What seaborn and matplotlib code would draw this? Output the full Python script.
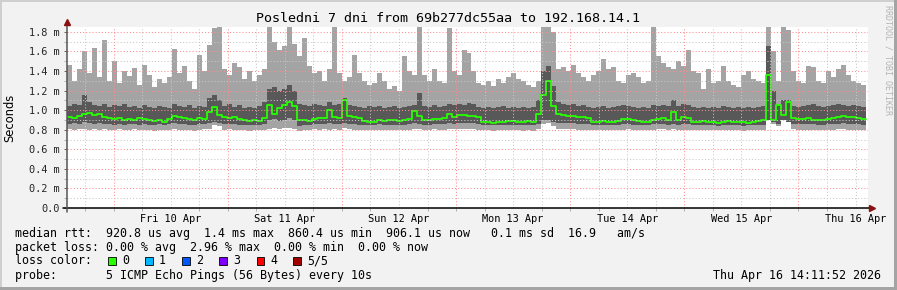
import numpy as np
import pandas as pd
import matplotlib
matplotlib.use("Agg")
import matplotlib.pyplot as plt
import seaborn as sns
from matplotlib.patches import Rectangle
from matplotlib.lines import Line2D

# ---------------- data (ms), 160 bins over 7 days ----------------
top = [
    1.46, 1.30, 1.42, 1.60, 1.38, 1.64, 1.34, 1.72, 1.30, 1.50, 1.28, 1.40, 1.35, 1.43, 1.26, 1.46, 1.36, 1.24, 1.32, 1.28,
    1.34, 1.63, 1.38, 1.45, 1.30, 1.22, 1.56, 1.40, 1.67, 1.84, 1.85, 1.42, 1.36, 1.48, 1.44, 1.32, 1.40, 1.30, 1.36, 1.42,
    1.86, 1.70, 1.62, 1.66, 1.86, 1.68, 1.55, 1.74, 1.45, 1.38, 1.40, 1.30, 1.42, 1.86, 1.38, 1.30, 1.34, 1.56, 1.38, 1.30,
    1.26, 1.28, 1.38, 1.30, 1.22, 1.25, 1.20, 1.55, 1.40, 1.36, 1.86, 1.36, 1.30, 1.42, 1.30, 1.28, 1.84, 1.40, 1.36, 1.62,
    1.58, 1.40, 1.28, 1.26, 1.30, 1.25, 1.32, 1.28, 1.34, 1.38, 1.32, 1.30, 1.26, 1.24, 1.30, 1.87, 1.86, 1.80, 1.42, 1.44,
    1.40, 1.46, 1.38, 1.34, 1.30, 1.36, 1.40, 1.52, 1.42, 1.44, 1.30, 1.28, 1.36, 1.38, 1.34, 1.28, 1.30, 1.86, 1.55, 1.48,
    1.44, 1.42, 1.50, 1.45, 1.62, 1.40, 1.38, 1.22, 1.42, 1.28, 1.30, 1.45, 1.30, 1.26, 1.24, 1.36, 1.40, 1.32, 1.30, 1.28,
    1.86, 1.60, 1.30, 1.86, 1.82, 1.40, 1.30, 1.28, 1.45, 1.44, 1.30, 1.28, 1.40, 1.34, 1.42, 1.46, 1.36, 1.30, 1.28, 1.26,
]
dark_top = [
    1.04, 1.06, 1.05, 1.15, 1.08, 1.05, 1.04, 1.06, 1.03, 1.05, 1.04, 1.06, 1.03, 1.04, 1.02, 1.05, 1.03, 1.02, 1.04, 1.03,
    1.02, 1.06, 1.04, 1.03, 1.05, 1.02, 1.04, 1.03, 1.12, 1.16, 1.10, 1.04, 1.06, 1.03, 1.05, 1.02, 1.03, 1.02, 1.04, 1.08,
    1.22, 1.24, 1.20, 1.22, 1.26, 1.20, 1.06, 1.05, 1.04, 1.06, 1.05, 1.04, 1.08, 1.05, 1.06, 1.12, 1.05, 1.04, 1.03, 1.02,
    1.04, 1.03, 1.04, 1.02, 1.03, 1.04, 1.02, 1.03, 1.04, 1.05, 1.18, 1.04, 1.03, 1.05, 1.03, 1.04, 1.06, 1.05, 1.06, 1.05,
    1.07, 1.06, 1.03, 1.02, 1.03, 1.02, 1.03, 1.04, 1.02, 1.03, 1.02, 1.03, 1.02, 1.03, 1.10, 1.40, 1.45, 1.25, 1.08, 1.06,
    1.05, 1.06, 1.04, 1.05, 1.03, 1.02, 1.03, 1.04, 1.02, 1.03, 1.04, 1.05, 1.04, 1.03, 1.02, 1.03, 1.02, 1.05, 1.04, 1.05,
    1.04, 1.10, 1.04, 1.06, 1.05, 1.03, 1.02, 1.03, 1.02, 1.03, 1.02, 1.04, 1.03, 1.02, 1.03, 1.02, 1.03, 1.02, 1.03, 1.04,
    1.66, 1.20, 1.05, 1.10, 1.10, 1.04, 1.03, 1.04, 1.05, 1.06, 1.04, 1.03, 1.04, 1.05, 1.06, 1.05, 1.04, 1.05, 1.04, 1.03,
]
dark_bot = [
    0.86, 0.87, 0.86, 0.88, 0.87, 0.86, 0.87, 0.86, 0.86, 0.85, 0.86, 0.85, 0.86, 0.86, 0.85, 0.86, 0.85, 0.85, 0.86, 0.85,
    0.86, 0.87, 0.86, 0.86, 0.85, 0.85, 0.86, 0.86, 0.87, 0.88, 0.87, 0.86, 0.86, 0.86, 0.85, 0.85, 0.85, 0.85, 0.85, 0.86,
    0.90, 0.91, 0.89, 0.90, 0.92, 0.90, 0.84, 0.85, 0.85, 0.86, 0.86, 0.86, 0.87, 0.86, 0.86, 0.87, 0.86, 0.86, 0.85, 0.85,
    0.85, 0.85, 0.86, 0.85, 0.85, 0.85, 0.85, 0.85, 0.86, 0.87, 0.86, 0.85, 0.85, 0.86, 0.86, 0.86, 0.87, 0.86, 0.87, 0.87,
    0.87, 0.87, 0.86, 0.85, 0.85, 0.85, 0.85, 0.85, 0.85, 0.85, 0.85, 0.85, 0.85, 0.85, 0.86, 0.90, 0.90, 0.88, 0.87, 0.87,
    0.87, 0.87, 0.86, 0.86, 0.86, 0.85, 0.85, 0.85, 0.85, 0.85, 0.85, 0.86, 0.86, 0.85, 0.85, 0.85, 0.85, 0.86, 0.86, 0.86,
    0.85, 0.86, 0.85, 0.86, 0.86, 0.85, 0.85, 0.85, 0.85, 0.85, 0.84, 0.85, 0.85, 0.85, 0.85, 0.84, 0.85, 0.85, 0.85, 0.85,
    0.90, 0.88, 0.86, 0.90, 0.88, 0.86, 0.86, 0.86, 0.86, 0.86, 0.85, 0.85, 0.86, 0.86, 0.86, 0.87, 0.86, 0.86, 0.86, 0.85,
]
low = [
    0.81, 0.80, 0.81, 0.81, 0.80, 0.81, 0.80, 0.81, 0.80, 0.80, 0.81, 0.80, 0.80, 0.81, 0.80, 0.80, 0.80, 0.79, 0.80, 0.80,
    0.80, 0.81, 0.80, 0.80, 0.80, 0.79, 0.80, 0.81, 0.81, 0.85, 0.84, 0.80, 0.81, 0.80, 0.80, 0.80, 0.79, 0.80, 0.80, 0.80,
    0.81, 0.82, 0.81, 0.82, 0.82, 0.81, 0.79, 0.80, 0.80, 0.81, 0.80, 0.81, 0.80, 0.81, 0.80, 0.82, 0.81, 0.80, 0.80, 0.80,
    0.80, 0.80, 0.80, 0.80, 0.80, 0.80, 0.80, 0.80, 0.80, 0.81, 0.81, 0.80, 0.80, 0.81, 0.80, 0.80, 0.81, 0.81, 0.81, 0.81,
    0.81, 0.81, 0.80, 0.80, 0.80, 0.79, 0.80, 0.80, 0.80, 0.80, 0.80, 0.79, 0.80, 0.79, 0.81, 0.86, 0.87, 0.84, 0.81, 0.81,
    0.81, 0.81, 0.80, 0.80, 0.80, 0.80, 0.80, 0.80, 0.80, 0.80, 0.80, 0.80, 0.81, 0.80, 0.80, 0.80, 0.80, 0.80, 0.81, 0.81,
    0.80, 0.81, 0.80, 0.80, 0.80, 0.80, 0.80, 0.80, 0.80, 0.80, 0.80, 0.80, 0.80, 0.80, 0.80, 0.79, 0.80, 0.80, 0.80, 0.80,
    0.90, 0.86, 0.84, 0.90, 0.88, 0.81, 0.80, 0.80, 0.80, 0.80, 0.80, 0.80, 0.80, 0.80, 0.81, 0.81, 0.80, 0.80, 0.80, 0.80,
]
median = [
    0.93, 0.92, 0.94, 0.96, 0.97, 0.95, 0.96, 0.93, 0.92, 0.91, 0.92, 0.90, 0.91, 0.90, 0.92, 0.91, 0.90, 0.89, 0.90, 0.88,
    0.91, 0.94, 0.93, 0.92, 0.91, 0.90, 0.92, 0.91, 0.98, 1.03, 0.95, 0.93, 0.92, 0.93, 0.91, 0.90, 0.89, 0.90, 0.89, 0.92,
    1.05, 0.96, 1.02, 1.05, 1.08, 1.04, 0.90, 0.90, 0.89, 0.91, 0.92, 0.92, 1.00, 0.93, 0.92, 1.10, 0.94, 0.93, 0.92, 0.89,
    0.88, 0.88, 0.90, 0.89, 0.90, 0.90, 0.89, 0.90, 0.91, 0.99, 0.94, 0.90, 0.90, 0.91, 0.91, 0.92, 0.96, 0.93, 0.95, 0.95,
    0.94, 0.94, 0.93, 0.88, 0.88, 0.87, 0.88, 0.88, 0.89, 0.89, 0.88, 0.88, 0.89, 0.88, 0.96, 1.16, 1.30, 1.04, 0.96, 0.95,
    0.94, 0.94, 0.93, 0.93, 0.92, 0.88, 0.88, 0.89, 0.88, 0.88, 0.89, 0.91, 0.91, 0.90, 0.89, 0.88, 0.88, 0.90, 0.91, 0.92,
    0.90, 0.98, 0.90, 0.93, 0.92, 0.88, 0.88, 0.89, 0.88, 0.88, 0.87, 0.88, 0.89, 0.88, 0.88, 0.88, 0.87, 0.88, 0.89, 0.90,
    1.36, 0.90, 1.05, 0.95, 1.08, 0.92, 0.91, 0.91, 0.92, 0.90, 0.90, 0.90, 0.91, 0.92, 0.93, 0.94, 0.93, 0.93, 0.92, 0.91,
]

day_labels = ["Fri 10 Apr", "Sat 11 Apr", "Sun 12 Apr", "Mon 13 Apr",
              "Tue 14 Apr", "Wed 15 Apr", "Thu 16 Apr"]
y_ticks = [0.0, 0.2, 0.4, 0.6, 0.8, 1.0, 1.2, 1.4, 1.6, 1.8]
y_ticklabels = ["0.0", "0.2 m", "0.4 m", "0.6 m", "0.8 m", "1.0 m",
                "1.2 m", "1.4 m", "1.6 m", "1.8 m"]

title = "Posledni 7 dni from 69b277dc55aa to 192.168.14.1"
legend_lines = [
    "median rtt:  920.8 us avg  1.4 ms max  860.4 us min  906.1 us now   0.1 ms sd  16.9   am/s",
    "packet loss: 0.00 % avg  2.96 % max  0.00 % min  0.00 % now",
    "loss color:",
    "probe:       5 ICMP Echo Pings (56 Bytes) every 10s",
]
loss_labels = ["0", "1", "2", "3", "4", "5/5"]
loss_colors = ["#26ff00", "#00b8ff", "#0059ff", "#7e00ff", "#ff0000", "#a10000"]
timestamp = "Thu Apr 16 14:11:52 2026"
watermark = "RRDTOOL / TOBI OETIKER"

# ---------------- figure ----------------
sns.set_theme(style="white")
plt.rcParams["font.family"] = ["DejaVu Sans Mono", "DejaVu Sans"]

W, H = 897, 290
BG = "#f2f2f2"
fig = plt.figure(figsize=(W / 100, H / 100), dpi=100, facecolor=BG)


def fx(x):
    return x / W


def fy(y):
    return 1 - y / H


X0, X1, Y0, Y1 = 67, 868, 208, 27
ax = fig.add_axes([fx(X0), fy(Y0), (X1 - X0) / W, (Y0 - Y1) / H])
ax.set_facecolor("white")

HOURS = 168.0
XMAX = HOURS * (X1 - X0) / 799.0
n = len(median)
step = HOURS / n
edges = np.arange(n + 1) * step


def ext(a):
    a = np.asarray(a, float)
    return np.append(a, a[-1])


ax.fill_between(edges, ext(low), ext(top), step="post", color="#a4a4a4", lw=0, zorder=1)
ax.fill_between(edges, ext(dark_bot), ext(dark_top), step="post", color="#585858", lw=0, zorder=2)
df = pd.DataFrame({"t": edges, "rtt": ext(median)})
sns.lineplot(data=df, x="t", y="rtt", drawstyle="steps-post", color="#26ff00",
             lw=1.3, ax=ax, zorder=3, legend=False)

ax.set_xlim(0, XMAX)
ax.set_ylim(0, 1.85)

# grid (drawn over the data like rrdtool)
to_midnight = 9.802
gx = np.arange(to_midnight - 6, XMAX, 6.0)
gx = gx[gx > 0.5]
for g in gx:
    k = (g - to_midnight) / 24.0
    is_major = abs(k - round(k)) < 1e-6
    ax.axvline(g, color="#ff8c8c" if is_major else "#c8c8c8", lw=0.75,
               ls=(0, (1, 2)), zorder=4)
for i in range(1, 19):
    v = i / 10
    ax.axhline(v, color="#ff8c8c" if i % 2 == 0 else "#c8c8c8", lw=0.75,
               ls=(0, (1, 2)), zorder=4)

# ticks
noon = [to_midnight + 12 + 24 * k for k in range(7)]
ax.set_xticks(noon)
ax.set_xticklabels(day_labels, fontsize=7.4)
ax.set_xticks(list(gx), minor=True)
ax.tick_params(axis="x", which="major", length=0, pad=4.5, colors="black")
ax.tick_params(axis="x", which="minor", length=2.5, width=0.7, color="#b0b0b0", bottom=True)
ax.set_yticks(y_ticks)
ax.set_yticklabels(y_ticklabels, fontsize=7.4)
ax.set_yticks([i / 10 for i in range(1, 19, 2)], minor=True)
ax.tick_params(axis="y", which="major", length=2.5, width=0.7, color="#666666", pad=3, left=True)
ax.tick_params(axis="y", which="minor", length=2.0, width=0.7, color="#b0b0b0", left=True)
ax.set_xlabel("")
ax.set_ylabel("")
for s in ax.spines.values():
    s.set_visible(False)

# axes lines with arrows
fig.add_artist(Line2D([fx(63), fx(871)], [fy(208), fy(208)], color="black", lw=1.1,
                      transform=fig.transFigure))
fig.add_artist(Line2D([fx(67), fx(67)], [fy(212), fy(24)], color="#555555", lw=1.1,
                      transform=fig.transFigure))
fig.add_artist(Line2D([fx(872)], [fy(208)], marker=">", ms=4.5, color="#8b1010",
                      lw=0, transform=fig.transFigure))
fig.add_artist(Line2D([fx(67)], [fy(22)], marker="^", ms=4.5, color="#8b1010",
                      lw=0, transform=fig.transFigure))

# texts
fig.text(fx(448), fy(19), title, ha="center", va="center", fontsize=9.6, color="black")
fig.text(fx(10), fy(118), "Seconds", rotation=90, ha="center", va="center",
         fontsize=8.3, family=["DejaVu Sans"], color="black")
fig.text(fx(888), fy(5), watermark, rotation=270, ha="center", va="top",
         fontsize=6.0, color="#b4b4b4")

LFS = 8.35
ys = [234, 248, 261, 276]
for line, yy in zip(legend_lines, ys):
    fig.text(fx(15), fy(yy), line, ha="left", va="center", fontsize=LFS, color="black")
sq_x = [108, 145, 182, 219, 256.5, 293]
for xx, lab, col in zip(sq_x, loss_labels, loss_colors):
    fig.add_artist(Rectangle((fx(xx), fy(264.5)), 7.5 / W, 7.5 / H, facecolor=col,
                             edgecolor="black", lw=0.6, transform=fig.transFigure))
    fig.text(fx(xx + 14), fy(261), lab, ha="left", va="center", fontsize=LFS, color="black")
fig.text(fx(881), fy(276), timestamp, ha="right", va="center", fontsize=LFS, color="black")

# frame
fig.add_artist(Rectangle((0, fy(2)), 1, 2 / H, facecolor="#cfcfcf", lw=0, transform=fig.transFigure))
fig.add_artist(Rectangle((0, 0), 2 / W, 1, facecolor="#cfcfcf", lw=0, transform=fig.transFigure))
fig.add_artist(Rectangle((0, 0), 1, 3 / H, facecolor="#a4a4a4", lw=0, transform=fig.transFigure))
fig.add_artist(Rectangle((fx(894), 0), 3 / W, 1, facecolor="#a4a4a4", lw=0, transform=fig.transFigure))

fig.savefig("out.png", dpi=100, facecolor=BG)
